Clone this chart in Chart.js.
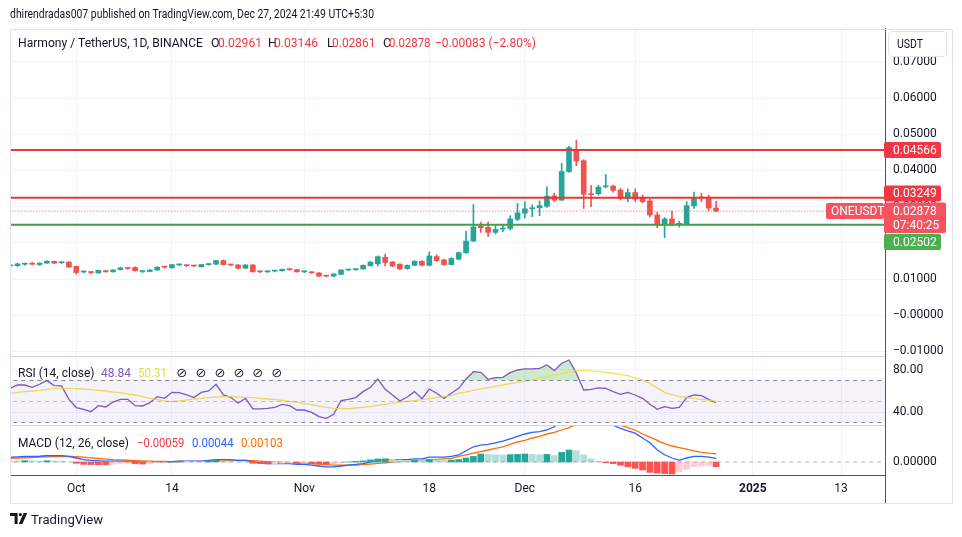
<!DOCTYPE html>
<html><head><meta charset="utf-8">
<script src="https://cdn.jsdelivr.net/npm/chart.js@4.4.1/dist/chart.umd.min.js"></script>
<style>
html,body{margin:0;padding:0;background:#fff;}
#wrap{position:relative;width:962px;height:537px;overflow:hidden;font-family:Roboto,"Liberation Sans",sans-serif;color:#131722;background:#fff;}
#c{position:absolute;left:0;top:0;}
.t{position:absolute;white-space:nowrap;transform-origin:0 50%;}
#frame{position:absolute;left:10px;top:29px;width:941px;height:473px;border:1px solid #e0e3eb;pointer-events:none;}
#usdt{position:absolute;left:888px;top:31px;width:57px;height:24px;border:1px solid #e0e3eb;border-radius:4px;background:#fff;}
#logo{position:absolute;left:10px;top:513px;}
</style></head><body>
<div id="wrap">
<canvas id="c" width="962" height="537"></canvas>
<div id="frame"></div>
<div id="usdt"></div>
<svg id="logo" width="20" height="12" viewBox="0 0 20 12"><path d="M0 0H7.6V11H4.6V3H0Z M13.6 0H17.2L12.4 11H8.8Z" fill="#131722"/><circle cx="10.4" cy="1.6" r="1.6" fill="#131722"/></svg>
</div>
<script>
// ---------------- DATA ----------------
const startDate = '2024-09-22';
const open = [.01365,.0137,.0141,.0142,.0140,.0144,.0149,.0145,.0147,
 .0135,.01195,.0119,.0117,.0123,.0120,.0126,.0130,.0132,.0121,.0121,.0125,.0134,.0131,.0139,.0138,.0137,.0134,.0140,.0141,.0151,.0140,.0139,.0130,.0139,.01202,.0120,.0122,.0123,.0127,.0126,
 .0120,.0120,.0117,.0109,.0108,.0113,.0125,.0126,.0128,.0137,.0142,.0160,.0147,.0141,.0129,.0138,.0149,.0138,.0162,.0153,.0140,.0155,.0173,.0205,.0246,.0243,.0229,.0238,.0240,.0265,
 .0282,.0294,.0297,.0301,.0330,.0318,.0397,.0458,.0427,.0336,.0336,.0355,.0357,.0346,.0323,.0339,.0323,.0316,.0277,.0249,.0266,.0251,.0253,.0302,.0327,.0326,.02961];
const high = [.0139,.0144,.0144,.0146,.0145,.0151,.0150,.0148,.0148,
 .0136,.0123,.0121,.0125,.0124,.0126,.0133,.0132,.0134,.0124,.0126,.0134,.0135,.0141,.0142,.0139,.0138,.0141,.0143,.0152,.0153,.0141,.0140,.0140,.0140,.0122,.0123,.0124,.0128,.0128,.0127,
 .0122,.0121,.0118,.0110,.0115,.0126,.0127,.0128,.0139,.0148,.0164,.0169,.0149,.0142,.0139,.0151,.0151,.0175,.0167,.0155,.0159,.0175,.0232,.0306,.0257,.0258,.0249,.0251,.0275,.0309,
 .0314,.0305,.0316,.0355,.0337,.0420,.0467,.0484,.0430,.0358,.0359,.0389,.0360,.0351,.0349,.0349,.0332,.0320,.0284,.0270,.0288,.0260,.0314,.0340,.0337,.0332,.03146];
const low = [.0135,.0135,.0138,.0140,.0138,.0143,.0143,.0143,.0132,
 .0114,.0117,.0115,.0116,.0119,.0119,.0125,.0127,.0122,.0118,.0120,.0124,.0130,.0130,.0137,.0134,.0134,.0133,.0138,.0140,.0139,.0137,.0128,.0129,.0119,.0118,.0118,.0120,.0122,.0124,.0119,
 .0118,.0116,.0107,.0106,.0107,.0112,.0123,.0124,.0127,.0135,.0136,.0136,.0134,.0126,.0127,.0137,.0136,.0136,.0149,.0138,.0139,.0153,.0171,.0203,.0229,.0218,.0225,.0231,.0236,.0261,
 .0268,.0272,.0275,.0298,.0314,.0317,.0395,.0413,.0295,.0300,.0332,.0352,.0340,.0318,.0314,.0314,.0310,.0272,.0242,.0214,.0247,.0244,.0249,.0295,.0314,.0289,.02861];
const close = [.0137,.0142,.01415,.0141,.0144,.0149,.0144,.01455,.0133,
 .0118,.0120,.0118,.0124,.0120,.0125,.0131,.0129,.0123,.0122,.0125,.0133,.0133,.0140,.01392,.0137,.0136,.0140,.0141,.0151,.0140,.0139,.0130,.0139,.0120,.0120,.0122,.0123,.0127,.0126,.0120,
 .01205,.0117,.0108,.0108,.0114,.0125,.0126,.0127,.0138,.0147,.0162,.0146,.0136,.0128,.0138,.0149,.0138,.0164,.0151,.0140,.0157,.0173,.0205,.0244,.0242,.0229,.0237,.0241,.0266,.0283,
 .0294,.0297,.0303,.0329,.0318,.0397,.0463,.0426,.0334,.0333,.0354,.0357,.0345,.0323,.0339,.0321,.0314,.0277,.0249,.0266,.0249,.0254,.0303,.0325,.0324,.0296,.02878];
const rsi = [62.5,65.7,65.7,63.5,66.4,69.9,65.1,64.8,52.0,
 44.1,42.5,40.3,46.0,44.8,49.5,52.1,52.1,46.0,45.7,48.9,54.6,53.0,58.7,58.4,56.2,53.7,58.7,60.0,66.4,56.2,54.0,48.3,53.0,42.9,42.9,43.5,44.5,47.3,46.0,41.9,
 41.9,39.7,35.6,34.0,37.8,50.8,52.1,53.7,59.4,63.5,71.4,61.6,56.2,50.5,54.3,59.4,52.7,61.9,57.8,53.0,57.8,62.5,71.4,78.4,77.8,71.1,72.7,73.0,77.5,80.0,
 81.0,81.0,81.6,84.8,79.4,86.4,89.5,77.0,61.0,61.6,62.9,62.5,59.4,56.8,58.7,56.2,53.0,47.3,42.5,45.1,43.5,44.5,53.7,56.2,55.6,52.1,48.84];
const rsiMa = [57.8,58.7,59.4,60.0,60.6,61.6,62.2,62.5,62.5,
 62.2,61.9,61.3,60.6,60.0,59.0,58.4,57.1,56.2,54.6,53.0,51.8,50.5,49.9,50.5,51.4,52.4,53.0,53.7,54.3,54.6,54.6,54.3,54.0,53.7,53.0,52.4,51.8,51.1,50.2,49.2,
 48.3,47.0,45.7,44.5,43.5,43.2,43.2,43.8,44.5,45.1,46.4,47.3,48.3,49.5,50.2,50.8,51.8,52.7,53.7,54.6,55.6,58.0,59.0,60.5,62.0,63.3,64.5,65.7,67.0,68.3,
 69.5,70.9,72.3,73.7,75.2,76.8,78.3,79.7,79.6,79.1,78.6,77.8,76.9,75.8,74.6,72.6,70.5,67.0,63.0,58.7,56.5,54.6,53.8,53.0,52.0,51.2,50.31];
const macd = [0.0006,0.00065,0.0007,0.0007,0.00072,0.00078,0.0008,0.0008,0.0007,
 0.0005,0.0003,0.0002,0.00015,0.0001,0.0001,0.0001,0.00005,0.0,-0.00005,-0.00005,0.0,0.0,0.00005,0.0001,0.0001,0.0001,0.0001,0.0002,0.0003,0.0003,0.0003,0.0002,0.0002,0.0,-0.0001,-0.0002,-0.0002,-0.0002,-0.0002,-0.0003,
 -0.0003,-0.0004,-0.0005,-0.0006,-0.0006,-0.0005,-0.0004,-0.0003,-0.0002,0.0,0.0002,0.0003,0.0003,0.0003,0.0003,0.0004,0.0004,0.0006,0.0006,0.0006,0.0007,0.0009,0.0014,0.0019,0.0021,0.0022,0.0024,0.0026,0.0029,0.0032,
 0.0035,0.0037,0.0038,0.0040,0.0044,0.0052,0.0060,0.0063,0.0060,0.0056,0.0053,0.0050,0.0046,0.0042,0.0039,0.0036,0.0030,0.0024,0.0015,0.0009,0.0005,0.0002,0.0005,0.0007,0.0007,0.0006,0.00044];
const signal = [0.00045,0.0005,0.00053,0.00056,0.0006,0.00063,0.00066,0.00069,0.0007,
 0.00066,0.0006,0.00052,0.00044,0.00037,0.0003,0.00026,0.00022,0.00018,0.00013,0.0001,0.00008,0.00006,0.00005,0.00006,0.00007,0.00008,0.00008,0.0001,0.00014,0.00017,0.0002,0.0002,0.0002,0.00016,0.0001,0.00004,-0.00001,-0.00005,-0.00008,-0.00012,
 -0.00016,-0.0002,-0.00026,-0.00033,-0.00038,-0.0004,-0.0004,-0.00038,-0.00034,-0.00027,-0.00018,-0.0001,-0.00002,0.00004,0.0001,0.00016,0.0002,0.00028,0.00034,0.0004,0.00046,0.0007,0.0009,0.0011,0.0013,0.0015,0.0017,0.0019,0.0022,0.0025,
 0.0027,0.0030,0.0032,0.0035,0.0037,0.0040,0.0043,0.0047,0.0050,0.0052,0.0052,0.0051,0.0049,0.0046,0.0043,0.0040,0.0035,0.0031,0.0027,0.0023,0.0020,0.0018,0.0016,0.0014,0.0012,0.0011,0.00103];
const hist = [0.00015,0.00015,0.00017,0.00014,0.00012,0.00015,0.00014,0.00011,0.0,
 -0.00016,-0.0003,-0.00032,-0.00034,-0.00035,-0.00028,-0.00022,-0.00018,-0.00022,-0.00026,-0.00021,-0.00008,-0.00006,0.00003,0.0001,0.00008,0.00006,0.00005,0.00012,0.00018,0.00014,0.00012,0.00001,0.0,-0.00016,-0.0002,-0.00024,-0.0002,-0.00015,-0.00012,-0.00018,
 -0.00014,-0.0002,-0.00024,-0.00027,-0.00022,-0.0001,0.0,0.00008,0.00014,0.00027,0.00038,0.0004,0.00032,0.00026,0.0002,0.00024,0.0002,0.00032,0.00026,0.0002,0.00024,0.0003,0.0005,0.0007,0.001,0.00095,0.0009,0.00088,0.00092,0.00095,
 0.001,0.00095,0.0009,0.00095,0.0008,0.0012,0.0015,0.0014,0.0009,0.0004,0.0001,-0.0001,-0.0002,-0.0004,-0.0006,-0.0008,-0.001,-0.0013,-0.0014,-0.00145,-0.0015,-0.0012,-0.0009,-0.0006,-0.0005,-0.00045,-0.00059];
const levels = [0.04566, 0.03249, 0.02502];
const lastClose = 0.02878;
const countdown = '07:40:25';
const symbolTag = 'ONEUSDT';
const rsiLevels = [70, 50, 30];
const priceTicks = [-0.01, 0, 0.01, 0.02, 0.03, 0.04, 0.05, 0.06, 0.07];
const priceTickLabels = ['\u22120.01000','\u22120.00000','0.01000','0.02000','0.03000','0.04000','0.05000','0.06000','0.07000'];
const rsiTicks = [40, 80];
const rsiTickLabels = ['40.00', '80.00'];
const macdTicks = [0];
const macdTickLabels = ['0.00000'];
const timeTickDates = ['2024-10-01','2024-10-14','2024-11-01','2024-11-18','2024-12-01','2024-12-16','2025-01-01','2025-01-13'];
const timeTickLabels = ['Oct','14','Nov','18','Dec','16','2025','13'];
const headerText = 'dhirendradas007 published on TradingView.com, Dec 27, 2024 21:49 UTC+5:30';

// ---------------- STYLE ----------------
const FONT = 'Roboto, "Liberation Sans", sans-serif';
const UP = '#26a69a', DOWN = '#ef5350';
const levelColors = ['#e53935', '#e53935', '#43a047'];
const levelTagColors = ['#f23645', '#f23645', '#4caf50'];
const GRID = '#f0f3fa';
const AXIS = '#50535e';
const TXT = '#131722';

const dayIdx = s => Math.round((Date.parse(s) - Date.parse(startDate)) / 86400000);
const timeTicks = timeTickDates.map(dayIdx);
const idx = close.map((_, i) => i);
const candleColor = c => close[c.dataIndex] >= open[c.dataIndex] ? UP : DOWN;
const histColor = c => { const i = c.dataIndex, v = hist[i], p = i > 0 ? hist[i-1] : v;
  return v >= 0 ? (v > p ? '#26a69a' : '#b2dfdb') : (v < p ? '#ff5252' : '#ffcdd2'); };
const hline = v => [{x: -5, y: v}, {x: 130, y: v}];

const datasets = [];
datasets.push({type:'line', yAxisID:'yR', data: hline(rsiLevels[0]), borderWidth:0, pointRadius:0, fill:'+1', backgroundColor:'rgba(126,87,194,0.08)'});
datasets.push({type:'line', yAxisID:'yR', data: hline(rsiLevels[2]), borderWidth:0, pointRadius:0, fill:false});
rsiLevels.forEach((v, k) => datasets.push({type:'line', yAxisID:'yR', data: hline(v), borderColor: k === 1 ? 'rgba(120,123,134,0.45)' : 'rgba(120,123,134,0.9)', borderWidth:1, borderDash:[4,4], pointRadius:0}));
datasets.push({type:'line', yAxisID:'yM', data: hline(0), borderColor:'rgba(120,123,134,0.5)', borderWidth:1, borderDash:[4,4], pointRadius:0});
levels.forEach((v, k) => datasets.push({type:'line', yAxisID:'y', data: hline(v), borderColor: levelColors[k], borderWidth:2, pointRadius:0}));
datasets.push({type:'line', yAxisID:'y', data: hline(lastClose), borderColor: DOWN, borderWidth:1, borderDash:[1,2], pointRadius:0});
datasets.push({type:'bar', yAxisID:'y', data: idx.map(i => ({x:i, y:[low[i], high[i]]})), backgroundColor: candleColor, barThickness:1, grouped:false, minBarLength:1});
datasets.push({type:'bar', yAxisID:'y', data: idx.map(i => ({x:i, y:[open[i], close[i]]})), backgroundColor: candleColor, barThickness:5, grouped:false, minBarLength:1});
datasets.push({type:'line', yAxisID:'yR', data: idx.map(i => ({x:i, y:rsiMa[i]})), borderColor:'rgba(240,222,60,0.85)', borderWidth:1.3, pointRadius:0, tension:0});
datasets.push({type:'line', yAxisID:'yR', data: idx.map(i => ({x:i, y:rsi[i]})), borderColor:'#7e57c2', borderWidth:1.3, pointRadius:0, tension:0,
  fill:{target:{value:70}, above:'rgba(76,175,80,0.28)', below:'rgba(0,0,0,0)'}});
datasets.push({type:'bar', yAxisID:'yM', data: idx.map(i => ({x:i, y:hist[i]})), backgroundColor: histColor, barThickness:6, grouped:false});
datasets.push({type:'line', yAxisID:'yM', data: idx.map(i => ({x:i, y:macd[i]})), borderColor:'#2962ff', borderWidth:1.3, pointRadius:0, tension:0});
datasets.push({type:'line', yAxisID:'yM', data: idx.map(i => ({x:i, y:signal[i]})), borderColor:'#ff6d00', borderWidth:1.3, pointRadius:0, tension:0});

const paneClip = {
  id:'paneClip',
  beforeDatasetDraw(chart, args) {
    const ys = args.meta.yScale, a = chart.chartArea, ctx = chart.ctx;
    ctx.save(); ctx.beginPath(); ctx.rect(a.left, ys.top, a.right - a.left, ys.bottom - ys.top); ctx.clip();
  },
  afterDatasetDraw(chart) { chart.ctx.restore(); }
};
const decor = {
  id:'decor',
  afterDatasetsDraw(chart) {
    const ctx = chart.ctx, a = chart.chartArea;
    ctx.save();
    ctx.strokeStyle = '#d1d4dc'; ctx.lineWidth = 1;
    [chart.scales.yR.top, chart.scales.yM.top].forEach(y => { ctx.beginPath(); ctx.moveTo(a.left, Math.round(y)+0.5); ctx.lineTo(a.right, Math.round(y)+0.5); ctx.stroke(); });
    ctx.strokeStyle = AXIS;
    ctx.beginPath(); ctx.moveTo(a.right + 0.5, a.top - 2); ctx.lineTo(a.right + 0.5, 503); ctx.stroke();
    ctx.restore();
  },
  afterDraw(chart) {
    const ctx = chart.ctx, ys = chart.scales.y, a = chart.chartArea;
    const x0 = a.right - 1;
    ctx.save();
    ctx.font = '12px ' + FONT; ctx.textBaseline = 'middle'; ctx.textAlign = 'left';
    const ym = ys.getPixelForValue(lastClose);
    const mTop = ym - 8.5, mBot = ym + 22;
    levels.forEach((v, k) => {
      const yc = ys.getPixelForValue(v);
      let top = yc - 8, bot = yc + 8;
      if (bot > mTop && top < mBot) {
        if (yc < ym) { bot = mTop - 1; top = bot - 16; } else { top = mBot + 1; bot = top + 16; }
      }
      ctx.fillStyle = levelTagColors[k];
      ctx.beginPath(); ctx.roundRect(x0, top, 57, 16, 2); ctx.fill();
      ctx.fillStyle = '#fff'; ctx.fillText(v.toFixed(5), x0 + 9, (top + bot) / 2 + 0.5);
    });
    ctx.fillStyle = '#f7525f';
    ctx.beginPath(); ctx.roundRect(x0, mTop, 62, mBot - mTop, 2); ctx.fill();
    ctx.beginPath(); ctx.roundRect(826, ym - 8, 58, 16, 2); ctx.fill();
    ctx.fillStyle = '#fff';
    ctx.fillText(lastClose.toFixed(5), x0 + 9, ym + 0.5);
    ctx.fillText(countdown, x0 + 9, ym + 14.5);
    ctx.fillText(symbolTag, 831, ym + 0.5);
    ctx.restore();
  }
};

const yTickCfg = (ticks, labels) => ({
  afterBuildTicks: s => { s.ticks = ticks.map(v => ({value: v})); },
  ticks: {callback: (v, i) => labels[i], padding: 8, color: TXT, font: {family: FONT, size: 12}},
  afterFit: s => { s.width = 67; }
});

new Chart(document.getElementById('c'), {
  type: 'bar',
  data: {datasets},
  options: {
    responsive: false, animation: false, devicePixelRatio: 1, events: [],
    layout: {autoPadding: false, padding: {left: 10, right: 10, top: 30, bottom: 34}},
    plugins: {legend: {display: false}, tooltip: {enabled: false}},
    scales: {
      x: {type: 'linear', offset: false, min: -0.015, max: 118.97,
        afterBuildTicks: s => { s.ticks = timeTicks.map(v => ({value: v})); },
        afterFit: s => { s.height = 28; },
        ticks: {callback: (v, i) => timeTickLabels[i], autoSkip: false, maxRotation: 0, padding: 7, color: TXT,
          font: c => ({family: FONT, size: 12, weight: (c.tick && c.tick.label === '2025') ? 'bold' : 'normal'})},
        grid: {color: GRID, drawTicks: false, offset: false}, border: {color: AXIS}},
      y: Object.assign({type: 'linear', position: 'right', stack: 'panes', stackWeight: 326, min: -0.01126, max: 0.07882,
        grid: {color: GRID, drawTicks: false}, border: {color: AXIS}}, yTickCfg(priceTicks, priceTickLabels)),
      yR: Object.assign({type: 'linear', position: 'right', stack: 'panes', stackWeight: 69, min: 27.62, max: 93.33,
        grid: {color: GRID, drawTicks: false}, border: {color: AXIS}}, yTickCfg(rsiTicks, rsiTickLabels)),
      yM: Object.assign({type: 'linear', position: 'right', stack: 'panes', stackWeight: 50, min: -0.001625, max: 0.004625,
        grid: {display: false, drawTicks: false}, border: {color: AXIS}}, yTickCfg(macdTicks, macdTickLabels))
    }
  },
  plugins: [paneClip, decor]
});

// ---------------- TEXT ----------------
const texts = [
  {t: headerText, x: 10, y: 14, w: 364, s: 13},
  {t: 'Harmony / TetherUS, 1D, BINANCE', x: 18, y: 42, w: 185, s: 12.5},
  {t: 'O', x: 211, y: 42, s: 12.5}, {t: '0.02961', x: 217.5, y: 42, w: 44, s: 12.5, c: '#f23645'},
  {t: 'H', x: 268, y: 42, s: 12.5}, {t: '0.03146', x: 274, y: 42, w: 44, s: 12.5, c: '#f23645'},
  {t: 'L', x: 327, y: 42, s: 12.5}, {t: '0.02861', x: 331.5, y: 42, w: 43.5, s: 12.5, c: '#f23645'},
  {t: 'C', x: 383, y: 42, s: 12.5}, {t: '0.02878', x: 388.5, y: 42, w: 41.5, s: 12.5, c: '#f23645'},
  {t: '\u22120.00083 (\u22122.80%)', x: 435, y: 42, w: 101, s: 12.5, c: '#f23645'},
  {t: 'RSI (14, close)', x: 17.5, y: 372.5, w: 76.5, s: 12.5},
  {t: '48.84', x: 101, y: 372.5, w: 30, s: 12.5, c: '#7e57c2'},
  {t: '50.31', x: 137.7, y: 372.5, w: 29, s: 12.5, c: '#e8d94a'},
  {t: 'MACD (12, 26, close)', x: 17.5, y: 442.5, w: 111, s: 12.5},
  {t: '\u22120.00059', x: 136.7, y: 442.5, w: 47.3, s: 12.5, c: '#f23645'},
  {t: '0.00044', x: 191.7, y: 442.5, w: 41.6, s: 12.5, c: '#2962ff'},
  {t: '0.00103', x: 240.7, y: 442.5, w: 42, s: 12.5, c: '#ff6d00'},
  {t: 'USDT', x: 897, y: 44, w: 26, s: 12},
  {t: 'TradingView', x: 31, y: 519, w: 72, s: 13.5}
];
[181.7, 201, 220, 239, 257.7, 276.7].forEach(cx => texts.push({t: '\u2298', x: cx - 5.5, y: 372.5, s: 13, c: '#131722', f: '"DejaVu Sans", sans-serif'}));
const wrap = document.getElementById('wrap');
const els = texts.map(d => {
  const e = document.createElement('div');
  e.className = 't'; e.textContent = d.t;
  e.style.left = d.x + 'px'; e.style.fontSize = d.s + 'px'; e.style.lineHeight = (d.s * 1.2) + 'px';
  e.style.top = (d.y - d.s * 0.6) + 'px'; e.style.color = d.c || TXT;
  if (d.f) e.style.fontFamily = d.f;
  wrap.appendChild(e); return [e, d];
});
els.forEach(([e, d]) => { if (d.w) { const w = e.getBoundingClientRect().width; if (w > 0) e.style.transform = 'scaleX(' + (d.w / w) + ')'; } });
</script>
</body></html>
